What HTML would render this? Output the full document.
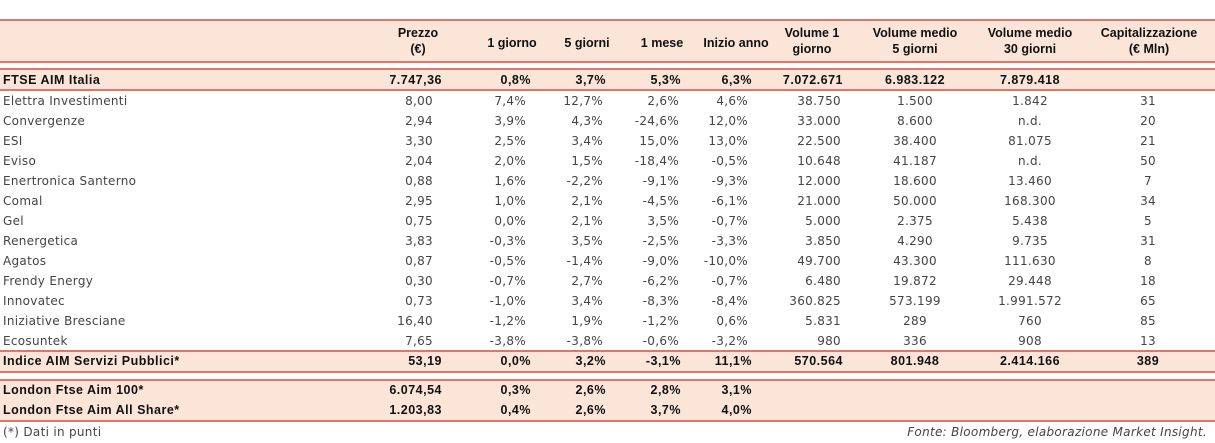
<!DOCTYPE html>
<html><head><meta charset="utf-8">
<style>
body{margin:0;width:1215px;height:443px;background:#fff;position:relative;overflow:hidden;font-family:"Liberation Sans",sans-serif;font-size:12.5px;color:#333}
.band{position:absolute;left:0;width:1215px;background:#fbe5d8}
.ln{position:absolute;left:0;width:1215px;height:2px;background:#e0756a}
.c{position:absolute;white-space:nowrap;line-height:20px;font-family:"DejaVu Sans",sans-serif;font-size:12px;letter-spacing:0.3px;color:#444}
.b{font-family:"Liberation Sans",sans-serif;font-size:12.5px;font-weight:bold;color:#111;letter-spacing:0.5px}
.h{position:absolute;font-weight:bold;color:#111;text-align:center;line-height:16px;white-space:nowrap}
</style></head><body>
<div class="band" style="top:20px;height:42px"></div>
<div class="ln" style="top:19px"></div><div class="ln" style="top:61px"></div>
<div class="band" style="top:69px;height:21px"></div>
<div class="ln" style="top:68px"></div><div class="ln" style="top:89px"></div>
<div class="band" style="top:351px;height:21px"></div>
<div class="ln" style="top:350px"></div><div class="ln" style="top:371px"></div>
<div class="band" style="top:380px;height:41px"></div>
<div class="ln" style="top:379px"></div><div class="ln" style="top:420px"></div>

<div class="h" style="left:378px;width:80px;top:25px">Prezzo<br>(€)</div>
<div class="h" style="left:472px;width:80px;top:35px">1 giorno</div>
<div class="h" style="left:547px;width:80px;top:35px">5 giorni</div>
<div class="h" style="left:622px;width:80px;top:35px">1 mese</div>
<div class="h" style="left:691px;width:90px;top:35px">Inizio anno</div>
<div class="h" style="left:767px;width:90px;top:25px">Volume 1<br>giorno</div>
<div class="h" style="left:860px;width:110px;top:25px">Volume medio<br>5 giorni</div>
<div class="h" style="left:975px;width:110px;top:25px">Volume medio<br>30 giorni</div>
<div class="h" style="left:1088px;width:122px;top:25px">Capitalizzazione<br>(€ Mln)</div>

<div class="c" style="left:3px;top:422px">(*) Dati in punti</div>
<div class="c" style="right:8px;top:422px;font-style:italic">Fonte: Bloomberg, elaborazione Market Insight.</div>

<script>
const rows=[
["FTSE AIM Italia","7.747,36","0,8%","3,7%","5,3%","6,3%","7.072.671","6.983.122","7.879.418","",1],
["Elettra Investimenti","8,00","7,4%","12,7%","2,6%","4,6%","38.750","1.500","1.842","31",0],
["Convergenze","2,94","3,9%","4,3%","-24,6%","12,0%","33.000","8.600","n.d.","20",0],
["ESI","3,30","2,5%","3,4%","15,0%","13,0%","22.500","38.400","81.075","21",0],
["Eviso","2,04","2,0%","1,5%","-18,4%","-0,5%","10.648","41.187","n.d.","50",0],
["Enertronica Santerno","0,88","1,6%","-2,2%","-9,1%","-9,3%","12.000","18.600","13.460","7",0],
["Comal","2,95","1,0%","2,1%","-4,5%","-6,1%","21.000","50.000","168.300","34",0],
["Gel","0,75","0,0%","2,1%","3,5%","-0,7%","5.000","2.375","5.438","5",0],
["Renergetica","3,83","-0,3%","3,5%","-2,5%","-3,3%","3.850","4.290","9.735","31",0],
["Agatos","0,87","-0,5%","-1,4%","-9,0%","-10,0%","49.700","43.300","111.630","8",0],
["Frendy Energy","0,30","-0,7%","2,7%","-6,2%","-0,7%","6.480","19.872","29.448","18",0],
["Innovatec","0,73","-1,0%","3,4%","-8,3%","-8,4%","360.825","573.199","1.991.572","65",0],
["Iniziative Bresciane","16,40","-1,2%","1,9%","-1,2%","0,6%","5.831","289","760","85",0],
["Ecosuntek","7,65","-3,8%","-3,8%","-0,6%","-3,2%","980","336","908","13",0],
["Indice AIM Servizi Pubblici*","53,19","0,0%","3,2%","-3,1%","11,1%","570.564","801.948","2.414.166","389",1],
["London Ftse Aim 100*","6.074,54","0,3%","2,6%","2,8%","3,1%","","","","",1],
["London Ftse Aim All Share*","1.203,83","0,4%","2,6%","3,7%","4,0%","","","","",1]];
const tops=[70,91,111,131,151,171,191,211,231,251,271,291,311,331,351,380,400];
const rightN=[433,526,603,679,748,841], rightB=[442,531,606,681,752,843];
const centers=[915,1030,1148];
rows.forEach((r,i)=>{
  const y=tops[i], bold=r[10];
  const nm=document.createElement('div');
  nm.className='c'+(bold?' b':'');
  nm.style.left='3px';nm.style.top=y+'px';
  nm.textContent=r[0];
  
  
  document.body.appendChild(nm);
  for(let k=1;k<=9;k++){
    if(!r[k])continue;
    const d=document.createElement('div');
    d.className='c'+(bold?' b':'');
    d.style.top=y+'px';
    d.textContent=r[k];
    if(k<=6){d.style.right=(1215-(bold?rightB:rightN)[k-1])+'px';}
    else{d.style.left=(centers[k-7]-60)+'px';d.style.width='120px';d.style.textAlign='center';}
    
    
    document.body.appendChild(d);
  }
});
</script>
</body></html>
